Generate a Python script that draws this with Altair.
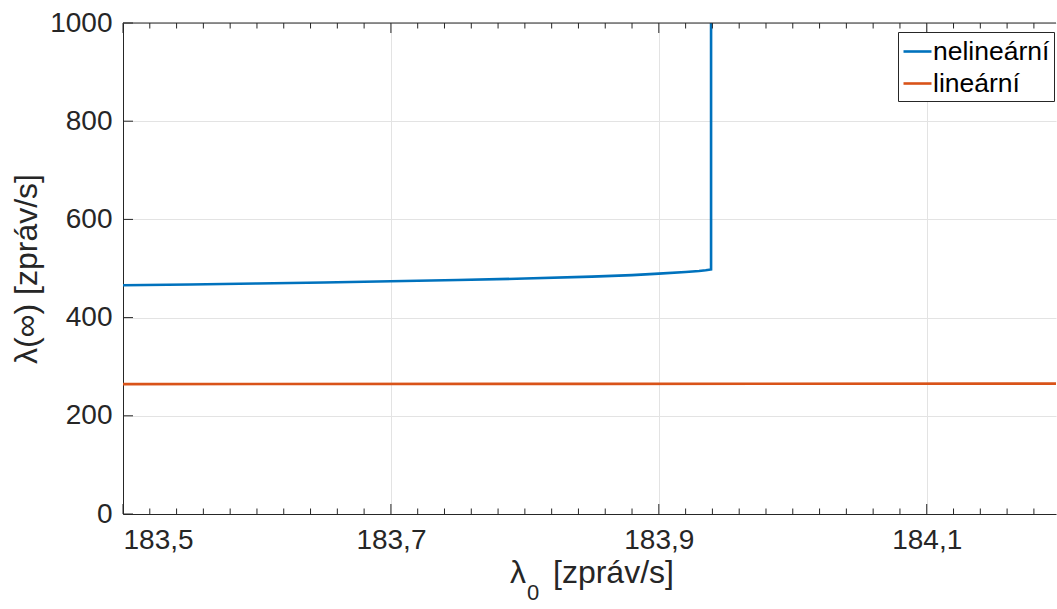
import altair as alt
import pandas as pd

# ---- data ----
x_nonlin = [183.5, 183.55, 183.6, 183.65, 183.7, 183.75, 183.8, 183.85, 183.88, 183.9,
            183.92, 183.93, 183.935, 183.939, 183.939]
y_nonlin = [466, 467.5, 469.5, 471.5, 474, 476.5, 479.5, 483.5, 486.5, 489.5,
            493, 495, 496.5, 498, 1000]
x_lin = [183.5, 183.85, 184.2]
y_lin = [264.6, 265.0, 265.5]

series_names = ["nelineární", "lineární"]
series_colors = ["#0072BD", "#D95319"]

x_major = [183.5, 183.7, 183.9, 184.1]
x_minor = [round(183.5 + 0.02 * k, 2) for k in range(1, 35)
           if round(183.5 + 0.02 * k, 2) not in x_major]
y_major = [0, 200, 400, 600, 800, 1000]

x_title_main = "λ"
x_title_sub = "0"
x_title_unit = "[zpráv/s]"
y_title = "λ(∞) [zpráv/s]"

# ---- layout ----
W, H = 933, 491
FONT = "Liberation Sans"
INK = "#262626"

rows = []
for i, (xv, yv) in enumerate(zip(x_nonlin, y_nonlin)):
    rows.append({"x": xv, "y": yv, "series": series_names[0], "i": i})
for i, (xv, yv) in enumerate(zip(x_lin, y_lin)):
    rows.append({"x": xv, "y": yv, "series": series_names[1], "i": i})
df = pd.DataFrame(rows)

xs = alt.Scale(domain=[183.5, 184.1965], nice=False, zero=False)
ys = alt.Scale(domain=[0, 1000], nice=False)

lines = alt.Chart(df).mark_line(strokeWidth=2.6, clip=True).encode(
    x=alt.X("x:Q", scale=xs, axis=alt.Axis(
        values=x_major, title=None, orient="bottom",
        labelExpr="replace(format(datum.value, '.1f'), '.', ',')",
        grid=True, ticks=False, labelPadding=12)),
    y=alt.Y("y:Q", scale=ys, axis=alt.Axis(
        values=y_major, title=y_title, format="d", orient="left",
        grid=True, ticks=False, labelPadding=11, titlePadding=6,
        titleFontSize=32)),
    color=alt.Color("series:N", scale=alt.Scale(domain=series_names, range=series_colors),
                    legend=alt.Legend(title=None, orient="none", legendX=775, legendY=9,
                                      symbolType="stroke", symbolSize=784,
                                      symbolStrokeWidth=2.6, labelFontSize=26.5,
                                      labelFont=FONT, labelColor="black",
                                      strokeColor=INK, fillColor="white",
                                      padding=4, rowPadding=3, labelOffset=0,
                                      labelLimit=400)),
    order="i:Q",
)

top_border = alt.Chart(pd.DataFrame({"y": [1000]})).mark_rule(color=INK, strokeWidth=1).encode(
    y=alt.Y("y:Q", scale=ys, axis=None))

df_xmaj = pd.DataFrame({"x": x_major})
df_xmin = pd.DataFrame({"x": x_minor})
df_ymaj = pd.DataFrame({"y": y_major})

def xticks(d, y0, y1):
    return alt.Chart(d).mark_rule(color=INK, strokeWidth=1).encode(
        x=alt.X("x:Q", scale=xs, axis=None), y=alt.value(y0), y2=alt.value(y1))

tick_layers = [
    xticks(df_xmaj, H, H - 10),
    xticks(df_xmaj, 0, 10),
    xticks(df_xmin, H, H - 5.5),
    xticks(df_xmin, 0, 5.5),
    alt.Chart(df_ymaj).mark_rule(color=INK, strokeWidth=1).encode(
        y=alt.Y("y:Q", scale=ys, axis=None), x=alt.value(0), x2=alt.value(10)),
]

def title_text(t, x, y, size):
    return alt.Chart(pd.DataFrame({"t": [t]})).mark_text(
        align="left", baseline="alphabetic", font=FONT, fontSize=size, color=INK
    ).encode(text="t:N", x=alt.value(x), y=alt.value(y))

title_layers = [
    title_text(x_title_main, 387, 560, 32),
    title_text(x_title_sub, 404, 577, 22),
    title_text(x_title_unit, 430, 560, 32),
]

chart = alt.layer(lines, top_border, *tick_layers, *title_layers).resolve_axis(
    x="independent", y="independent"
).properties(
    width=W, height=H,
    padding={"left": 123, "top": 23, "right": 1, "bottom": 95},
    autosize=alt.AutoSizeParams(type="none"),
    background="white",
).configure_view(stroke=None).configure_axis(
    domainColor=INK, domainWidth=1, labelColor=INK, titleColor=INK,
    labelFont=FONT, titleFont=FONT, labelFontSize=28, titleFontSize=32,
    titleFontWeight="normal", gridColor="#e3e3e3", gridWidth=1,
)

chart.save("out.html", embed_options={"renderer": "svg", "actions": False})
